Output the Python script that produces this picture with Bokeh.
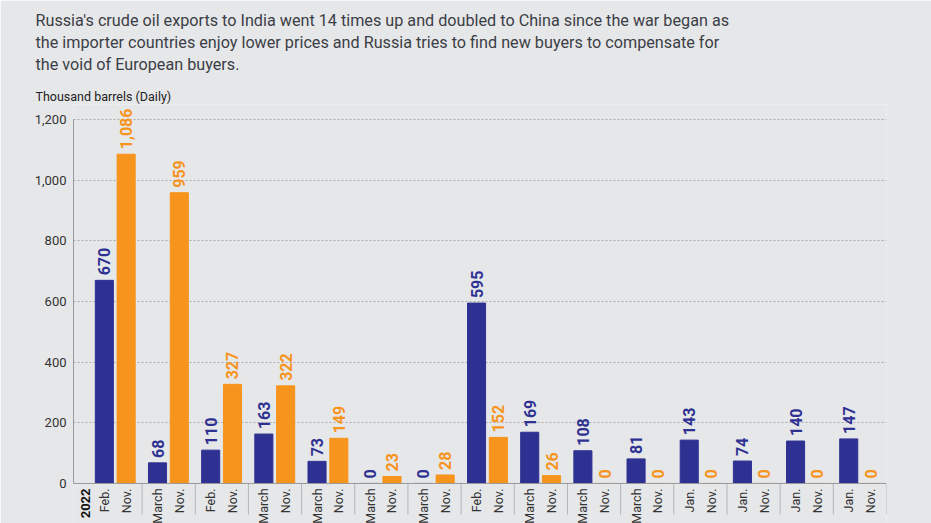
import math
from bokeh.plotting import figure
from bokeh.models import (ColumnDataSource, LabelSet, Label, Range1d, FixedTicker,
                          NumeralTickFormatter, Title, Span)
from bokeh.core.properties import value
from bokeh.embed import file_html
from bokeh.resources import INLINE

# ---- data ----
first_month = ["Feb.", "March", "Feb.", "March", "March", "March", "March", "Feb.",
               "March", "March", "March", "Jan.", "Jan.", "Jan.", "Jan."]
second_month = ["Nov."] * 15
blue_vals = [670, 68, 110, 163, 73, 0, 0, 595, 169, 108, 81, 143, 74, 140, 147]
orange_vals = [1086, 959, 327, 322, 149, 23, 28, 152, 26, 0, 0, 0, 0, 0, 0]
year_label = "2022"
y_ticks = [0, 200, 400, 600, 800, 1000, 1200]
title_lines = [
    "Russia's crude oil exports to India went 14 times up and doubled to China since the war began as",
    "the importer countries enjoy lower prices and Russia tries to find new buyers to compensate for",
    "the void of European buyers.",
]
unit_label = "Thousand barrels  (Daily)"

BLUE = "#2e3192"
ORANGE = "#f7941d"
BG = "#e6e7e9"
FONT = "Roboto"

W, H = 931, 523
BL, BR = 73, 45
X0, X1 = -0.29, 15.0
Y0, Y1 = -132, 1250
SEP_PX = 31

p = figure(width=W, height=H, output_backend="svg", toolbar_location=None,
           x_range=Range1d(X0, X1), y_range=Range1d(Y0, Y1),
           min_border_left=BL, min_border_right=BR, min_border_top=0, min_border_bottom=0)
p.background_fill_color = BG
p.border_fill_color = BG
p.outline_line_color = None

n = len(blue_vals)
idx = list(range(n))
src_b = ColumnDataSource(dict(x=[i + 0.29 for i in idx], top=blue_vals,
                              lab=[f"{v:,}" for v in blue_vals], cat=first_month))
src_o = ColumnDataSource(dict(x=[i + 0.70 for i in idx], top=orange_vals,
                              lab=[f"{v:,}" for v in orange_vals], cat=second_month))

p.vbar(x="x", top="top", bottom=0, width=0.34, color=BLUE, source=src_b)
p.vbar(x="x", top="top", bottom=0, width=0.34, color=ORANGE, source=src_o)

for src, col in ((src_b, BLUE), (src_o, ORANGE)):
    p.add_layout(LabelSet(x="x", y="top", text="lab", source=src, angle=math.pi / 2,
                          y_offset=5, text_align="left", text_baseline="middle",
                          text_font=value(FONT), text_font_style="bold",
                          text_font_size="16px", text_color=col))
    p.add_layout(LabelSet(x="x", y=0, text="cat", source=src, angle=math.pi / 2,
                          y_offset=-5, text_align="right", text_baseline="middle",
                          text_font=value(FONT), text_font_size="12.5px",
                          text_color="#333333"))

p.add_layout(Label(x=-0.07, y=0, text=year_label, angle=math.pi / 2, y_offset=-5,
                   text_align="right", text_baseline="middle", text_font=FONT,
                   text_font_style="bold", text_font_size="13px", text_color="#111111"))

# baseline and group separators
p.add_layout(Span(location=0, dimension="width", line_color="#9a9a9a", line_width=1))
sy = 418 / (Y1 - Y0)
bounds = list(range(1, n + 1))
p.segment(x0=bounds, x1=bounds, y0=[0] * n, y1=[-SEP_PX / sy] * n,
          line_color="#b5b5b5", line_width=1)

# y axis
p.yaxis.ticker = FixedTicker(ticks=y_ticks)
p.yaxis.formatter = NumeralTickFormatter(format="0,0")
p.yaxis.bounds = (0, 1200)
p.yaxis.major_tick_out = 0
p.yaxis.major_tick_in = 0
p.yaxis.minor_tick_out = 0
p.yaxis.minor_tick_in = 0
p.yaxis.major_label_standoff = 7
p.yaxis.axis_line_color = "#9a9a9a"
p.yaxis.major_label_text_font = FONT
p.yaxis.major_label_text_font_size = "13px"
p.yaxis.major_label_text_color = "#333333"
p.xaxis.visible = False

p.xgrid.grid_line_color = None
p.ygrid.ticker = FixedTicker(ticks=y_ticks[1:])
p.ygrid.grid_line_color = "#aaaaaa"
p.ygrid.grid_line_dash = "2 2"

# titles (closest to frame added first)
p.add_layout(Title(text=unit_label, align="left", offset=-38, standoff=1,
                   text_font=FONT, text_font_size="12.5px", text_font_style="normal",
                   text_color="#222222"), "above")
p.add_layout(Title(text="\n".join(title_lines), align="left", offset=-38, standoff=20,
                   vertical_align="top",
                   text_font=FONT, text_font_size="16.2px", text_font_style="normal",
                   text_line_height=1.18, text_color="#3b3e46"), "above")

open("out.html", "w").write(file_html(p, INLINE))
